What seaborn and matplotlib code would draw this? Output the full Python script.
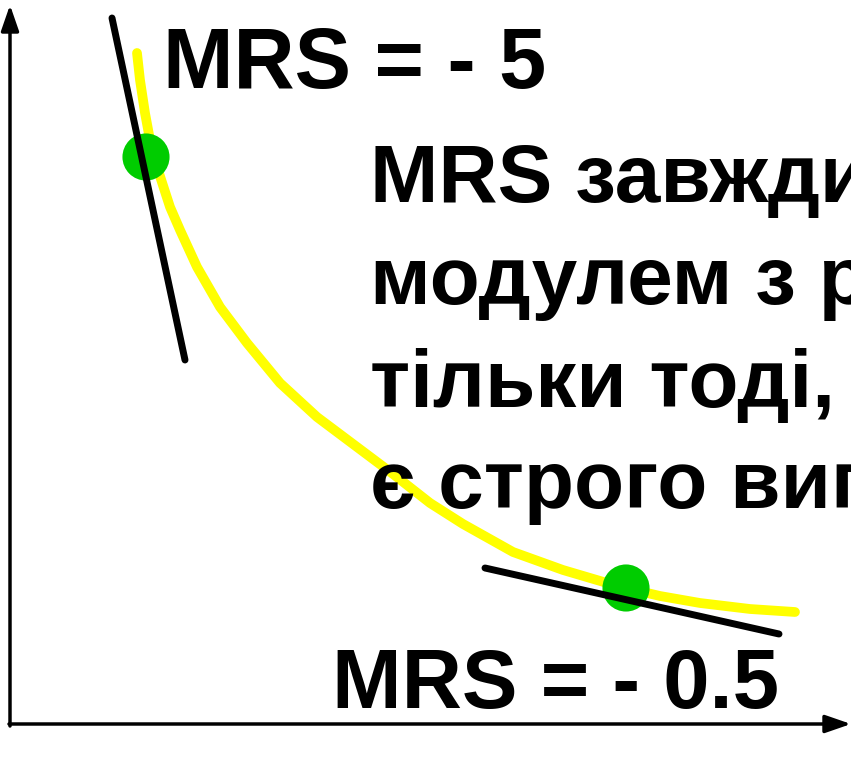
import matplotlib
matplotlib.use("Agg")
import matplotlib.pyplot as plt
import seaborn as sns
import pandas as pd

# Indifference curve (pixel-like units, y downward)
curve_x = [137, 140, 145, 150, 158, 170, 180, 197, 220, 247, 280, 317, 357, 393,
           430, 463, 513, 563, 607, 626, 660, 700, 750, 795]
curve_y = [53, 80, 113, 140, 170, 207, 230, 267, 307, 343, 383, 417, 447, 474,
           503, 524, 552, 570, 583, 588, 596, 603, 609, 612]

# Tangent points
point_x = [146, 626]
point_y = [157, 588]

# Tangent lines (endpoints)
tan1_x = [112, 185]
tan1_y = [18, 360]
tan2_x = [485, 779]
tan2_y = [568, 634]

label_top = "MRS = - 5"
label_bottom = "MRS = - 0.5"
text_lines = ["MRS завжди спадає", "модулем з ростом", "тільки тоді, коли", "є строго випуклою"]

sns.set_theme(style="white")
plt.rcParams['font.family'] = ['Liberation Sans', 'DejaVu Sans']
plt.rcParams['text.color'] = 'black'

fig = plt.figure(figsize=(8.51, 7.57), dpi=100)
ax = fig.add_axes([0, 0, 1, 1])

# axes arrows
ax.annotate("", xy=(10, 5), xytext=(10, 726),
            arrowprops=dict(arrowstyle="-|>,head_length=1.3,head_width=0.45", lw=2.5, color="black",
                            shrinkA=0, shrinkB=0), zorder=2)
ax.annotate("", xy=(851, 724), xytext=(9, 724),
            arrowprops=dict(arrowstyle="-|>,head_length=1.3,head_width=0.45", lw=2.5, color="black",
                            shrinkA=0, shrinkB=0), zorder=2)

df_curve = pd.DataFrame({"x": curve_x, "y": curve_y})
sns.lineplot(data=df_curve, x="x", y="y", ax=ax, color="#FFFF00", lw=7, sort=False,
             solid_capstyle="round", solid_joinstyle="round", zorder=3)

df_pts = pd.DataFrame({"x": point_x, "y": point_y})
sns.scatterplot(data=df_pts, x="x", y="y", ax=ax, color="#00CC00", s=1150, edgecolor="none", zorder=4)

sns.lineplot(x=tan1_x, y=tan1_y, ax=ax, color="black", lw=5, sort=False, zorder=5)
sns.lineplot(x=tan2_x, y=tan2_y, ax=ax, color="black", lw=5, sort=False, zorder=5)

ax.set_xlim(0, 851)
ax.set_ylim(757, 0)
ax.axis('off')

ax.text(163, 88, label_top, fontsize=61, fontweight='bold', color='black',
        ha='left', va='baseline', zorder=6)
ax.text(332, 708, label_bottom, fontsize=60, fontweight='bold', color='black',
        ha='left', va='baseline', zorder=6)
baselines = [202, 304, 407, 508]
for t, b in zip(text_lines, baselines):
    ax.text(370, b, t, fontsize=59, fontweight='bold', color='black',
            ha='left', va='baseline', zorder=6)

fig.savefig("out.png", dpi=100)
